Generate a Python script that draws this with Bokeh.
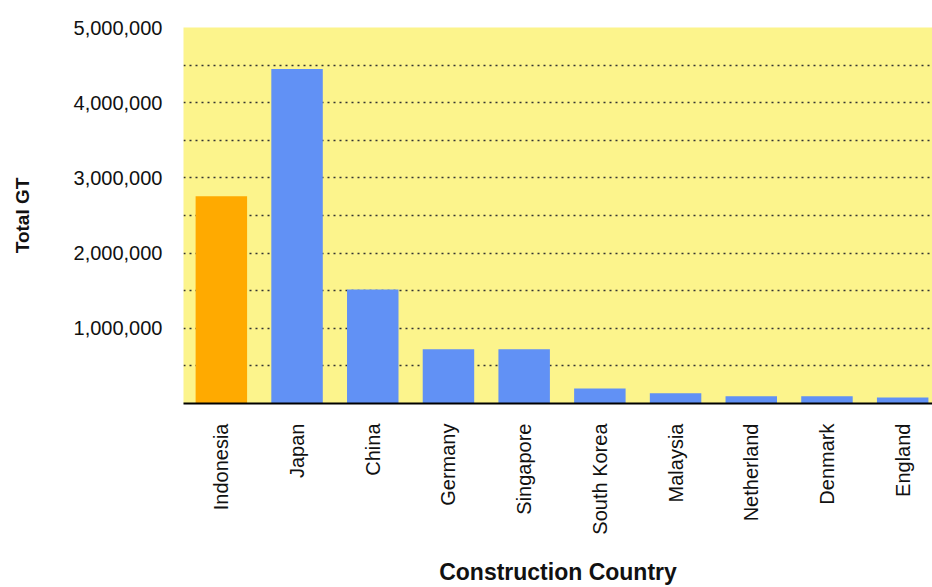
import numpy as np
from bokeh.plotting import figure
from bokeh.models import Range1d, FixedTicker, NumeralTickFormatter, ColumnDataSource
from bokeh.embed import file_html
from bokeh.resources import INLINE
import math

countries = ["Indonesia", "Japan", "China", "Germany", "Singapore",
             "South Korea", "Malaysia", "Netherland", "Denmark", "England"]
total_gt = [2755000, 4448000, 1517000, 721000, 721000,
            200000, 136000, 97000, 97000, 80000]
bar_colors = ["#FFAA00"] + ["#6191F5"] * 9
y_major = [1000000, 2000000, 3000000, 4000000, 5000000]
y_minor = [500000, 1500000, 2500000, 3500000, 4500000]

src = ColumnDataSource(dict(x=list(range(len(countries))), top=total_gt,
                            color=bar_colors))

p = figure(width=932, height=587, output_backend="svg", toolbar_location=None,
           x_range=Range1d(-0.5, 9.394), y_range=Range1d(0, 5000000),
           min_border_left=183, min_border_right=0, min_border_top=27,
           min_border_bottom=183, background_fill_color="#FCF48C",
           border_fill_color="white", outline_line_color=None)

p.vbar(x="x", top="top", width=0.68, color="color", source=src, line_color=None)

# x axis
p.xaxis.ticker = FixedTicker(ticks=list(range(len(countries))))
p.xaxis.major_label_overrides = {i: c for i, c in enumerate(countries)}
p.xaxis.major_label_orientation = math.pi / 2
p.xaxis.major_tick_line_color = None
p.xaxis.minor_tick_line_color = None
p.xaxis.major_tick_out = 0
p.xaxis.minor_tick_out = 0
p.xaxis.axis_line_color = "black"
p.xaxis.axis_line_width = 2
p.xaxis.major_label_standoff = 20
p.xaxis.major_label_text_font = "Liberation Sans"
p.xaxis.major_label_text_font_size = "20px"
p.xaxis.major_label_text_color = "#111111"
p.xaxis.axis_label = "Construction Country"
p.xaxis.axis_label_text_font = "Liberation Sans"
p.xaxis.axis_label_text_font_style = "bold"
p.xaxis.axis_label_text_font_size = "23px"
p.xaxis.axis_label_standoff = 21
p.xaxis.axis_label_text_color = "#111111"

# y axis
p.yaxis.ticker = FixedTicker(ticks=y_major, minor_ticks=y_minor)
p.yaxis.formatter = NumeralTickFormatter(format="0,0")
p.yaxis.major_tick_line_color = None
p.yaxis.minor_tick_line_color = None
p.yaxis.major_tick_out = 0
p.yaxis.minor_tick_out = 0
p.yaxis.axis_line_color = None
p.yaxis.major_label_standoff = 21
p.yaxis.major_label_text_font = "Liberation Sans"
p.yaxis.major_label_text_font_size = "20px"
p.yaxis.major_label_text_color = "#111111"
p.yaxis.axis_label = "Total GT"
p.yaxis.axis_label_text_font = "Liberation Sans"
p.yaxis.axis_label_text_font_style = "bold"
p.yaxis.axis_label_text_font_size = "19px"
p.yaxis.axis_label_standoff = 38
p.yaxis.axis_label_text_color = "#111111"

p.xgrid.grid_line_color = None
p.ygrid.grid_line_color = "#333333"
p.ygrid.grid_line_dash = "2 4"
p.ygrid.grid_line_width = 1.5
p.ygrid.minor_grid_line_color = "#333333"
p.ygrid.minor_grid_line_dash = "2 4"
p.ygrid.minor_grid_line_width = 1.5

open("out.html", "w").write(file_html(p, INLINE))
